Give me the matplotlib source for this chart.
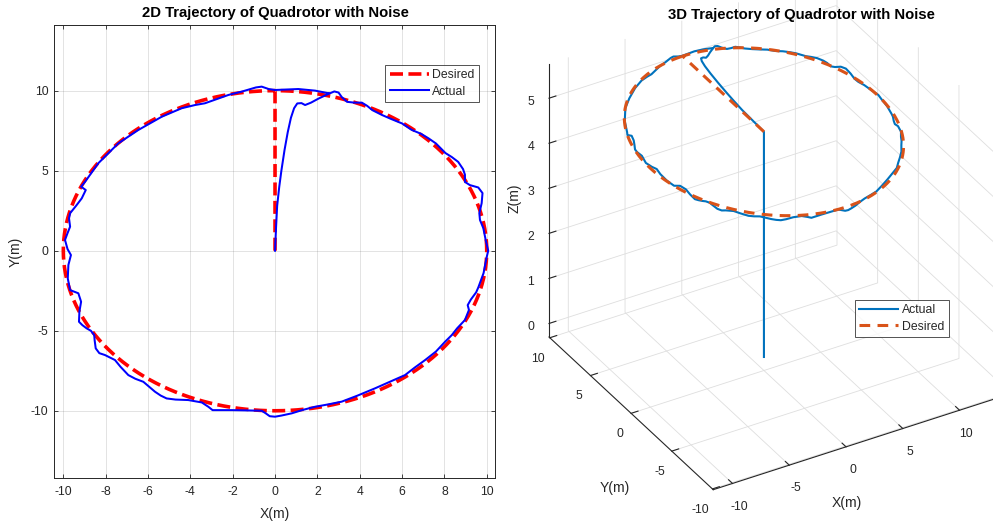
import numpy as np
import matplotlib
matplotlib.use('Agg')
import matplotlib.pyplot as plt
from matplotlib.lines import Line2D
from mpl_toolkits.mplot3d import proj3d

plt.rcParams['font.family'] = ['Liberation Sans', 'DejaVu Sans']
plt.rcParams['axes.unicode_minus'] = False

# ---------------- data ----------------
desired_radius = 10.0      # desired circular path radius (m)
cruise_alt = 5.0           # altitude of the circle (m)
takeoff_z = 0.0

actual_x = [0.00, 0.05, 0.10, 0.20, 0.30, 0.45, 0.60, 0.75, 0.90, 1.05, 1.25, 1.42, 1.70, 2.05, 2.45,
            2.80, 3.00, 3.15, 3.40, 3.75, 4.10, 4.35, 4.60, 5.05, 5.50, 6.00, 6.45, 6.90, 7.25, 7.60,
            8.05, 8.35, 8.65, 8.88, 8.97, 8.97, 9.20, 9.60, 9.80, 9.76, 9.65, 9.68, 9.84, 9.95, 10.07,
            9.98, 9.92, 9.85, 9.76, 9.60, 9.50, 9.25, 9.10, 9.16, 8.97, 8.60, 8.35, 8.03, 7.60, 7.09,
            6.60, 6.14, 5.40, 4.72, 3.90, 3.15, 2.52, 1.89, 1.30, 0.79, 0.30, 0.00, -0.25, -0.45, -0.63,
            -1.20, -2.04, -2.95, -3.15, -3.46, -4.10, -4.70, -5.12, -5.40, -5.67, -6.22, -6.60, -6.93,
            -7.30, -7.56, -8.03, -8.30, -8.47, -8.52, -8.54, -8.70, -8.90, -9.10, -9.26, -9.24, -9.16,
            -9.29, -9.68, -9.79, -9.76, -9.64, -9.80, -9.92, -9.80, -9.68, -9.73, -9.68, -9.40, -9.13,
            -8.94, -9.16, -8.97, -8.35, -7.40, -6.46, -5.35, -4.41, -3.78, -3.31, -2.20, -1.57, -0.90,
            -0.63, -0.30, 0.00, 1.10, 1.89, 2.52]
actual_y = [0.00, 1.50, 2.80, 4.00, 5.00, 6.30, 7.40, 8.30, 8.90, 9.20, 9.22, 9.10, 9.25, 9.50, 9.75,
            9.95, 9.88, 9.60, 9.30, 9.25, 9.25, 9.05, 8.78, 8.48, 8.22, 7.95, 7.55, 7.30, 7.02, 6.70,
            6.10, 5.85, 5.55, 5.10, 4.75, 4.30, 4.10, 3.95, 3.60, 2.97, 2.34, 1.92, 1.40, 0.67, 0.00,
            -0.50, -0.90, -1.40, -1.73, -2.30, -2.60, -3.05, -3.40, -3.70, -4.33, -4.85, -5.27, -5.69,
            -6.30, -6.83, -7.30, -7.77, -8.20, -8.60, -9.05, -9.43, -9.60, -9.75, -9.95, -10.16, -10.30,
            -10.37, -10.34, -10.15, -10.00, -9.98, -9.96, -9.96, -9.75, -9.48, -9.33, -9.30, -9.23,
            -9.05, -8.81, -8.19, -8.00, -7.77, -7.25, -6.83, -6.52, -6.40, -6.10, -5.60, -5.27, -5.00,
            -4.85, -4.65, -4.44, -3.80, -3.19, -2.66, -2.46, -1.73, -0.89, -0.27, 0.10, 0.67, 1.10,
            1.50, 2.02, 2.34, 2.80, 3.27, 3.79, 4.00, 4.31, 5.46, 6.71, 7.54, 8.37, 8.90, 9.10, 9.21,
            9.73, 9.94, 10.20, 10.25, 10.10, 10.04, 10.10, 10.00, 9.84]

x_ticks_2d = [-10, -8, -6, -4, -2, 0, 2, 4, 6, 8, 10]
y_ticks_2d = [-10, -5, 0, 5, 10]
ticks_3d_xy = [-10, -5, 0, 5, 10]
ticks_3d_z = [0, 1, 2, 3, 4, 5]

# ---------------- derived paths ----------------
theta = np.linspace(0.0, 2.0 * np.pi, 361)
circ_x = desired_radius * np.sin(theta)
circ_y = desired_radius * np.cos(theta)
des_x = np.concatenate([[0.0, 0.0], circ_x])
des_y = np.concatenate([[0.0, desired_radius], circ_y])

x3 = np.concatenate([[0.0], actual_x])
y3 = np.concatenate([[0.0], actual_y])
z3 = np.concatenate([[takeoff_z], np.full(len(actual_x), cruise_alt)])
dx3 = np.concatenate([[0.0], circ_x])
dy3 = np.concatenate([[0.0], circ_y])
dz3 = np.full(len(dx3), cruise_alt)

W, H = 993, 525
fig = plt.figure(figsize=(W / 100, H / 100), dpi=100)
fig.patch.set_facecolor('white')
TXT = '#262626'

# ---------------- 2D ----------------
ax = fig.add_axes([54 / W, 1 - 478 / H, 441 / W, 453 / H])
ax.plot(des_x, des_y, color='#FF0000', lw=2.6, ls=(0, (3.6, 1.5)), label='Desired')
ax.plot(actual_x, actual_y, color='#0000FF', lw=1.45, label='Actual')
ax.set_xlim(-10.44, 10.39)
ax.set_ylim(-14.2, 14.1)
ax.set_xticks(x_ticks_2d)
ax.set_yticks(y_ticks_2d)
ax.grid(True, color=TXT, alpha=0.15, lw=0.6)
ax.set_axisbelow(True)
ax.tick_params(direction='in', top=True, right=True, labelsize=8.8, colors=TXT, length=3,
               width=0.6, pad=4)
ax.tick_params(axis='x', pad=6)
for s in ax.spines.values():
    s.set_color(TXT)
    s.set_linewidth(0.7)
ax.set_xlabel('X(m)', fontsize=10, color=TXT)
ax.set_ylabel('Y(m)', fontsize=10, color=TXT)
ax.xaxis.set_label_coords(0.5, -0.079)
ax.xaxis.label.set_va('center')
ax.yaxis.set_label_coords(-0.088, 0.5)
ax.yaxis.label.set_va('center')
fig.text(275 / W, 1 - 13.5 / H, '2D Trajectory of Quadrotor with Noise', ha='center', va='center',
         fontsize=10.7, fontweight='bold', color='black')
leg = ax.legend(loc='upper right', bbox_to_anchor=(479 / W, 1 - 65 / H), bbox_transform=fig.transFigure,
                fontsize=8.8, frameon=True, fancybox=False, borderaxespad=0, handlelength=3.2,
                handletextpad=0.3, borderpad=0.35, labelspacing=0.35)
leg.get_frame().set_edgecolor(TXT)
leg.get_frame().set_linewidth(0.7)
for t in leg.get_texts():
    t.set_color(TXT)

# ---------------- 3D ----------------
xmin, xmax = -11.7, 13.6
ymin, ymax = -10.1, 10.1
zmin, zmax = -0.3, 5.77
box = (1.03, 1.0, 1.01)

ax3 = fig.add_axes([0.47, 0.0, 0.56, 1.0], projection='3d', proj_type='ortho', computed_zorder=False)
ax3.patch.set_visible(False)
ax3.plot(x3, y3, z3, color='#0072BD', lw=1.5, label='Actual', zorder=2)
ax3.plot(dx3, dy3, dz3, color='#D95319', lw=2.2, ls=(0, (3.5, 2.4)), label='Desired', zorder=3)
ax3.set_xlim(xmin, xmax)
ax3.set_ylim(ymin, ymax)
ax3.set_zlim(zmin, zmax)
ax3.set_xticks(ticks_3d_xy)
ax3.set_yticks(ticks_3d_xy)
ax3.set_zticks(ticks_3d_z)
ax3.view_init(elev=33.2, azim=-120.5)
ax3.set_box_aspect(box)
for axis in (ax3.xaxis, ax3.yaxis, ax3.zaxis):
    axis.set_pane_color((1, 1, 1, 0))
    axis.pane.set_edgecolor((1, 1, 1, 0))
    axis._axinfo['grid'].update(color=(0.87, 0.87, 0.87, 1), linewidth=0.6)
    axis._axinfo['tick'].update(inward_factor=0.0, outward_factor=0.3)
    axis.line.set_color(TXT)
    axis.line.set_linewidth(0.8)
ax3.tick_params(labelsize=8.8, colors=TXT, pad=0)
ax3.tick_params(axis='x', pad=0)
fig.text(801 / W, 1 - 15 / H, '3D Trajectory of Quadrotor with Noise', ha='center', va='center',
         fontsize=10.7, fontweight='bold', color='black')
fig.text(847 / W, 1 - 503 / H, 'X(m)', ha='center', va='center', fontsize=10, color=TXT)
fig.text(615 / W, 1 - 488 / H, 'Y(m)', ha='center', va='center', fontsize=10, color=TXT)
fig.text(515 / W, 1 - 198 / H, 'Z(m)', ha='center', va='center', fontsize=10, color=TXT, rotation=90)


def corner_px(x, y, z):
    xs, ys, _ = proj3d.proj_transform(x, y, z, ax3.get_proj())
    return np.array(ax3.transData.transform((xs, ys)))


target_left = np.array([549.0, H - 337.0])
target_front = np.array([712.0, H - 491.0])
fig.canvas.draw()
p1 = corner_px(xmin, ymax, zmin)
p2 = corner_px(xmin, ymin, zmin)
zoom = np.hypot(*(target_front - target_left)) / np.hypot(*(p2 - p1))
ax3.set_box_aspect(box, zoom=zoom)
fig.canvas.draw()
p1 = corner_px(xmin, ymax, zmin)
pos = ax3.get_position(original=True)
shift = (target_left - p1) / np.array([W, H])
ax3.set_position([pos.x0 + shift[0], pos.y0 + shift[1], pos.width, pos.height])

handles = [Line2D([], [], color='#0072BD', lw=1.5),
           Line2D([], [], color='#D95319', lw=2.2, ls=(0, (3.5, 2.4)))]
leg3 = fig.legend(handles, ['Actual', 'Desired'], loc='upper left', bbox_to_anchor=(855 / W, 1 - 300 / H),
                  fontsize=8.8, frameon=True, fancybox=False, borderaxespad=0, handlelength=3.2,
                  handletextpad=0.3, borderpad=0.35, labelspacing=0.35)
leg3.get_frame().set_edgecolor(TXT)
leg3.get_frame().set_linewidth(0.7)
for t in leg3.get_texts():
    t.set_color(TXT)

fig.savefig('out.png', dpi=100)
